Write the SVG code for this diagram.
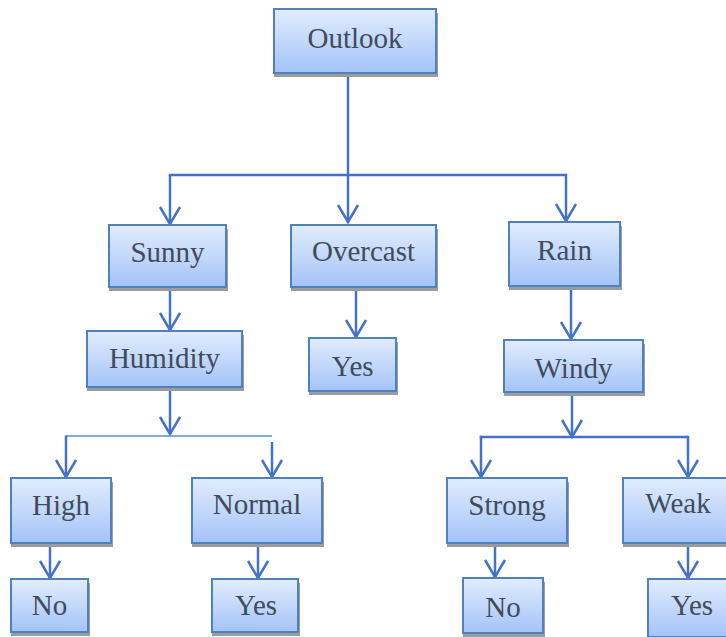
<svg xmlns="http://www.w3.org/2000/svg" width="726" height="637" viewBox="0 0 726 637">
  <defs>
    <linearGradient id="boxFill" x1="0" y1="0" x2="0" y2="1">
      <stop offset="0" stop-color="#e2ecfd"/>
      <stop offset="1" stop-color="#a3c3f8"/>
    </linearGradient>
    <filter id="soft" x="-10%" y="-10%" width="120%" height="130%">
      <feGaussianBlur stdDeviation="0.6"/>
    </filter>
    <marker id="vhead" markerUnits="userSpaceOnUse" viewBox="-20 -12 22 24" markerWidth="22" markerHeight="24" refX="0" refY="0" orient="auto">
      <path d="M-17,-10 L0,0 L-17,10" fill="none" stroke="#4472c4" stroke-width="2.5" stroke-linejoin="miter"/>
    </marker>
  </defs>
  <style>
    .shadow { fill: #9c9c9c; filter: url(#soft); }
    .box { fill: url(#boxFill); stroke: #4f81bd; stroke-width: 2; }
    .lbl { font-family: "Liberation Serif", "Times New Roman", serif; font-size: 29px; fill: #414c5b; text-anchor: middle; }
    .edge { fill: none; stroke: #4472c4; stroke-width: 2.5; }
    .edge.arrow { marker-end: url(#vhead); }
    .edge.thin { stroke: #5b8bd4; stroke-width: 1.6; }
  </style>

  <rect width="726" height="637" fill="#ffffff"/>

  <!-- connectors -->
  <g id="connectors">
    <path class="edge arrow" d="M348,73 V222"/>
    <path class="edge arrow" d="M170,175 V224"/>
    <path class="edge" d="M168.8,175 H566"/>
    <path class="edge arrow" d="M566,173.8 V221"/>
    <path class="edge arrow" d="M170,287 V330"/>
    <path class="edge arrow" d="M356,287 V337"/>
    <path class="edge arrow" d="M571,286 V339"/>
    <path class="edge arrow" d="M170,387 V434"/>
    <path class="edge thin" d="M66,436 H272"/>
    <path class="edge arrow" d="M66,435.5 V477"/>
    <path class="edge arrow" d="M272,442 V477"/>
    <path class="edge arrow" d="M572,392 V437"/>
    <path class="edge" d="M481,438 V437 H688"/>
    <path class="edge arrow" d="M481,435.8 V477"/>
    <path class="edge arrow" d="M688,435.8 V477"/>
    <path class="edge arrow" d="M50,543 V578"/>
    <path class="edge arrow" d="M258,543 V578"/>
    <path class="edge arrow" d="M495,543 V577"/>
    <path class="edge arrow" d="M688,543 V578"/>
  </g>

  <!-- nodes -->
  <g id="node-outlook">
    <rect class="shadow" x="274" y="13" width="164" height="64"/>
    <rect class="box" x="274" y="9" width="162" height="64"/>
    <text class="lbl" x="355" y="48">Outlook</text>
  </g>
  <g id="node-sunny">
    <rect class="shadow" x="109" y="229" width="119" height="62"/>
    <rect class="box" x="109" y="225" width="117" height="62"/>
    <text class="lbl" x="167.5" y="262">Sunny</text>
  </g>
  <g id="node-overcast">
    <rect class="shadow" x="291" y="229" width="147" height="62"/>
    <rect class="box" x="291" y="225" width="145" height="62"/>
    <text class="lbl" x="363.5" y="261">Overcast</text>
  </g>
  <g id="node-rain">
    <rect class="shadow" x="509" y="226" width="113" height="64"/>
    <rect class="box" x="509" y="222" width="111" height="64"/>
    <text class="lbl" x="564.5" y="260">Rain</text>
  </g>
  <g id="node-humidity">
    <rect class="shadow" x="87" y="335" width="157" height="56"/>
    <rect class="box" x="87" y="331" width="155" height="56"/>
    <text class="lbl" x="164.5" y="368">Humidity</text>
  </g>
  <g id="node-overcast-yes">
    <rect class="shadow" x="309" y="342" width="89" height="53"/>
    <rect class="box" x="309" y="338" width="87" height="53"/>
    <text class="lbl" x="352.5" y="376">Yes</text>
  </g>
  <g id="node-windy">
    <rect class="shadow" x="504" y="344" width="141" height="52"/>
    <rect class="box" x="504" y="340" width="139" height="52"/>
    <text class="lbl" x="573.5" y="378">Windy</text>
  </g>
  <g id="node-high">
    <rect class="shadow" x="11" y="482" width="102" height="65"/>
    <rect class="box" x="11" y="478" width="100" height="65"/>
    <text class="lbl" x="61" y="515">High</text>
  </g>
  <g id="node-normal">
    <rect class="shadow" x="192" y="482" width="132" height="65"/>
    <rect class="box" x="192" y="478" width="130" height="65"/>
    <text class="lbl" x="257" y="514">Normal</text>
  </g>
  <g id="node-strong">
    <rect class="shadow" x="447" y="482" width="122" height="65"/>
    <rect class="box" x="447" y="478" width="120" height="65"/>
    <text class="lbl" x="507" y="515">Strong</text>
  </g>
  <g id="node-weak">
    <rect class="shadow" x="623" y="482" width="112" height="65"/>
    <rect class="box" x="623" y="478" width="110" height="65"/>
    <text class="lbl" x="678" y="513">Weak</text>
  </g>
  <g id="node-high-no">
    <rect class="shadow" x="11" y="583" width="79" height="53"/>
    <rect class="box" x="11" y="579" width="77" height="53"/>
    <text class="lbl" x="49.5" y="615">No</text>
  </g>
  <g id="node-normal-yes">
    <rect class="shadow" x="212" y="583" width="88" height="53"/>
    <rect class="box" x="212" y="579" width="86" height="53"/>
    <text class="lbl" x="256" y="615">Yes</text>
  </g>
  <g id="node-strong-no">
    <rect class="shadow" x="463" y="582" width="82" height="55"/>
    <rect class="box" x="463" y="578" width="80" height="55"/>
    <text class="lbl" x="503" y="617">No</text>
  </g>
  <g id="node-weak-yes">
    <rect class="shadow" x="648" y="583" width="90" height="58"/>
    <rect class="box" x="648" y="579" width="88" height="58"/>
    <text class="lbl" x="692" y="615">Yes</text>
  </g>
</svg>
